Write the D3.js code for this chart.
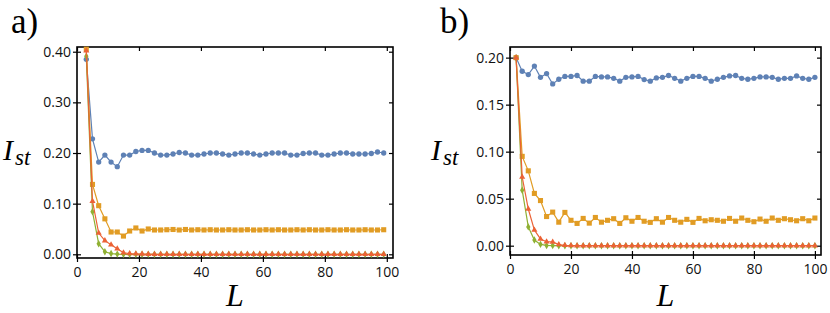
<!DOCTYPE html>
<html>
<head>
<meta charset="utf-8">
<script src="https://cdn.jsdelivr.net/npm/d3@7"></script>
<style>
  html, body { margin: 0; padding: 0; background: #fff; }
  svg { display: block; }
  .tick text { font-family: 'Open Sans', sans-serif; font-size: 14px; fill: #111; }
  .tick line { stroke: #000; stroke-width: 1.2; }
  .serif { font-family: 'Liberation Serif', 'DejaVu Serif', serif; fill: #000; }
</style>
</head>
<body>
<svg id="chart" width="830" height="313"></svg>
<script>
// panel a: odd sizes L = 3..99
const lA = [3, 5, 7, 9, 11, 13, 15, 17, 19, 21, 23, 25, 27, 29, 31, 33, 35, 37, 39, 41,
  43, 45, 47, 49, 51, 53, 55, 57, 59, 61, 63, 65, 67, 69, 71, 73, 75, 77, 79, 81,
  83, 85, 87, 89, 91, 93, 95, 97, 99];

const blueA = [0.385, 0.228, 0.182, 0.196, 0.182, 0.173, 0.196, 0.196, 0.203, 0.205,
  0.205, 0.200, 0.196, 0.196, 0.198, 0.201, 0.200, 0.196, 0.196, 0.198,
  0.200, 0.200, 0.198, 0.196, 0.198, 0.200, 0.200, 0.198, 0.196, 0.198,
  0.200, 0.200, 0.200, 0.196, 0.196, 0.199, 0.200, 0.200, 0.196, 0.196,
  0.198, 0.200, 0.200, 0.198, 0.198, 0.198, 0.199, 0.202, 0.200];
const orangeA = [0.405, 0.138, 0.096, 0.070, 0.044, 0.044, 0.036, 0.046, 0.052, 0.046,
  0.050, 0.048, 0.048, 0.0485, 0.049, 0.048, 0.049, 0.048, 0.0485, 0.048,
  0.0485, 0.048, 0.048, 0.0485, 0.048, 0.048, 0.0485, 0.048, 0.048, 0.0485,
  0.048, 0.0485, 0.048, 0.048, 0.0485, 0.048, 0.0485, 0.048, 0.048, 0.0485,
  0.048, 0.048, 0.0485, 0.048, 0.048, 0.0485, 0.048, 0.048, 0.0485];
const greenA = [0.391, 0.084, 0.021, 0.005, 0.0015, 0.0004, 0, 0, 0, 0,
  0, 0, 0, 0, 0, 0, 0, 0, 0, 0,
  0, 0, 0, 0, 0, 0, 0, 0, 0, 0,
  0, 0, 0, 0, 0, 0, 0, 0, 0, 0,
  0, 0, 0, 0, 0, 0, 0, 0, 0];
const redA = [0.402, 0.105, 0.042, 0.027, 0.019, 0.011, 0.003, 0.0015, 0.001, 0.0005,
  0.0002, 0, 0, 0, 0, 0, 0, 0, 0, 0,
  0, 0, 0, 0, 0, 0, 0, 0, 0, 0,
  0, 0, 0, 0, 0, 0, 0, 0, 0, 0,
  0, 0, 0, 0, 0, 0, 0, 0, 0];

// panel b: even sizes L = 2..100
const lB = [2, 4, 6, 8, 10, 12, 14, 16, 18, 20, 22, 24, 26, 28, 30, 32, 34, 36, 38, 40,
  42, 44, 46, 48, 50, 52, 54, 56, 58, 60, 62, 64, 66, 68, 70, 72, 74, 76, 78, 80,
  82, 84, 86, 88, 90, 92, 94, 96, 98, 100];

const blueB = [0.200, 0.1855, 0.182, 0.191, 0.179, 0.183, 0.172, 0.177, 0.180, 0.180,
  0.181, 0.175, 0.175, 0.180, 0.1795, 0.1795, 0.178, 0.175, 0.179, 0.1795,
  0.180, 0.1767, 0.175, 0.1784, 0.179, 0.181, 0.178, 0.175, 0.178, 0.180,
  0.180, 0.178, 0.175, 0.177, 0.179, 0.1805, 0.181, 0.178, 0.177, 0.178,
  0.1795, 0.1795, 0.179, 0.177, 0.178, 0.178, 0.1805, 0.178, 0.177, 0.179];
const orangeB = [0.200, 0.095, 0.0796, 0.0556, 0.048, 0.031, 0.0357, 0.025, 0.0354, 0.027,
  0.0237, 0.029, 0.024, 0.030, 0.025, 0.027, 0.0287, 0.0237, 0.0297, 0.026,
  0.030, 0.026, 0.0248, 0.0287, 0.025, 0.030, 0.027, 0.025, 0.028, 0.0248,
  0.029, 0.0265, 0.0276, 0.027, 0.026, 0.029, 0.026, 0.0294, 0.027, 0.0255,
  0.0283, 0.026, 0.0294, 0.027, 0.0287, 0.0276, 0.0265, 0.0287, 0.0265, 0.0294];
const greenB = [0.200, 0.059, 0.020, 0.006, 0.0014, 0.0003, 0.0001, 0, 0, 0,
  0, 0, 0, 0, 0, 0, 0, 0, 0, 0,
  0, 0, 0, 0, 0, 0, 0, 0, 0, 0,
  0, 0, 0, 0, 0, 0, 0, 0, 0, 0,
  0, 0, 0, 0, 0, 0, 0, 0, 0, 0];
const redB = [0.200, 0.073, 0.039, 0.0166, 0.0072, 0.0042, 0.004, 0.0012, 0.0004, 0.0001,
  0, 0, 0, 0, 0, 0, 0, 0, 0, 0,
  0, 0, 0, 0, 0, 0, 0, 0, 0, 0,
  0, 0, 0, 0, 0, 0, 0, 0, 0, 0,
  0, 0, 0, 0, 0, 0, 0, 0, 0, 0];

const xTicks = [0, 20, 40, 60, 80, 100];
const yTicksA = [0, 0.1, 0.2, 0.3, 0.4];
const yTicksB = [0, 0.05, 0.1, 0.15, 0.2];

const colors = { blue: '#5e81b5', orange: '#e19c24', green: '#8fb032', red: '#eb6235' };

const svg = d3.select('#chart');

const panels = [
  {
    tag: 'a)', tagX: 11,
    left: 77, right: 393, top: 47, bottom: 258,
    yDomain: [-0.0073, 0.4093], yTicks: yTicksA,
    L: lA,
    series: [
      { v: blueA, c: colors.blue, m: d3.symbolCircle, s: 22 },
      { v: orangeA, c: colors.orange, m: d3.symbolSquare, s: 26 },
      { v: greenA, c: colors.green, m: d3.symbolDiamond, s: 16 },
      { v: redA, c: colors.red, m: d3.symbolTriangle, s: 16 }
    ],
    labelX: 3
  },
  {
    tag: 'b)', tagX: 440,
    left: 510, right: 821, top: 47, bottom: 255,
    yDomain: [-0.0099, 0.2113], yTicks: yTicksB,
    L: lB,
    series: [
      { v: blueB, c: colors.blue, m: d3.symbolCircle, s: 22 },
      { v: orangeB, c: colors.orange, m: d3.symbolSquare, s: 26 },
      { v: greenB, c: colors.green, m: d3.symbolDiamond, s: 16 },
      { v: redB, c: colors.red, m: d3.symbolTriangle, s: 16 }
    ],
    labelX: 431
  }
];

panels.forEach(p => {
  const x = d3.scaleLinear().domain([0, 102]).range([p.left, p.right]);
  const y = d3.scaleLinear().domain(p.yDomain).range([p.bottom, p.top]);
  const g = svg.append('g');

  // frame ticks: left/bottom cross the frame, top/right point inward
  const bx = g.append('g').attr('transform', `translate(0,${p.bottom})`)
    .call(d3.axisBottom(x).tickValues(xTicks).tickSize(4).tickPadding(5).tickFormat(d3.format('d')));
  bx.selectAll('.tick line').attr('y1', -4);
  g.append('g').attr('transform', `translate(0,${p.top})`)
    .call(d3.axisTop(x).tickValues(xTicks).tickSize(-4).tickFormat(''));
  const ly = g.append('g').attr('transform', `translate(${p.left},0)`)
    .call(d3.axisLeft(y).tickValues(p.yTicks).tickSize(4).tickPadding(2).tickFormat(d3.format('.2f')));
  ly.selectAll('.tick line').attr('x1', 4);
  g.append('g').attr('transform', `translate(${p.right},0)`)
    .call(d3.axisRight(y).tickValues(p.yTicks).tickSize(-4).tickFormat(''));
  g.selectAll('.domain').remove();

  g.append('rect')
    .attr('x', p.left).attr('y', p.top)
    .attr('width', p.right - p.left).attr('height', p.bottom - p.top)
    .attr('fill', 'none').attr('stroke', '#000').attr('stroke-width', 1.6);

  const line = d3.line().x((d, i) => x(p.L[i])).y(d => y(d));

  p.series.forEach(s => {
    g.append('path')
      .datum(s.v)
      .attr('fill', 'none')
      .attr('stroke', s.c)
      .attr('stroke-width', 1.2)
      .attr('d', line);
    g.selectAll(null)
      .data(s.v)
      .enter()
      .append('path')
      .attr('transform', (d, i) => `translate(${x(p.L[i])},${y(d)})`)
      .attr('d', d3.symbol().type(s.m).size(s.s))
      .attr('fill', s.c);
  });

  // panel tag
  svg.append('text').attr('class', 'serif')
    .attr('x', p.tagX).attr('y', 33)
    .attr('font-size', 35)
    .text(p.tag);

  // y label I_st
  const yl = svg.append('text').attr('class', 'serif')
    .attr('x', p.labelX).attr('y', 160)
    .attr('font-size', 30).attr('font-style', 'italic')
    .text('I');
  yl.append('tspan').attr('dx', 2).attr('dy', 5).attr('font-size', 23).text('st');

  // x label L
  svg.append('text').attr('class', 'serif')
    .attr('x', (p.left + p.right) / 2).attr('y', 306)
    .attr('text-anchor', 'middle')
    .attr('font-size', 32).attr('font-style', 'italic')
    .text('L');
});
</script>
</body>
</html>
